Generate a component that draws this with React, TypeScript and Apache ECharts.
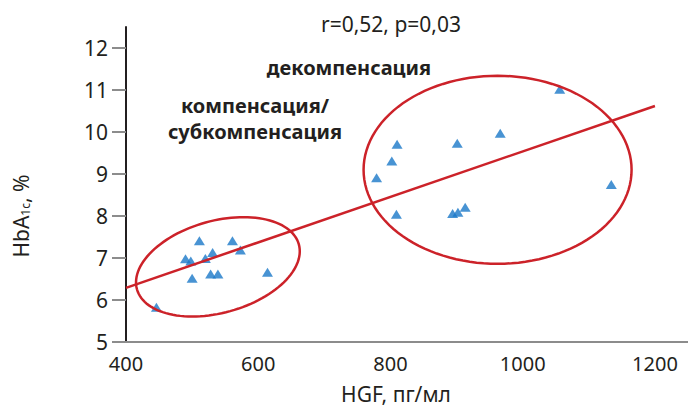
import React, { useEffect, useRef } from "react";
import * as echarts from "echarts";

// HGF (pg/ml) and HbA1c (%) values
const hgf = [446, 511, 490, 498, 500, 520, 531, 528, 539, 561, 573, 614,
  1056, 810, 901, 966, 802, 779, 1134, 809, 894, 902, 913];
const hba1c = [5.83, 7.41, 6.98, 6.93, 6.52, 6.99, 7.13, 6.62, 6.62, 7.41, 7.19, 6.66,
  11.02, 9.71, 9.73, 9.97, 9.31, 8.91, 8.75, 8.04, 8.06, 8.09, 8.21];

// regression line end points
const fitX = [400, 1200];
const fitY = [6.29, 10.62];

// ellipse centres (data units)
const ellipseCx = [539, 962];
const ellipseCy = [6.79, 9.1];

const xTicks = [400, 600, 800, 1000, 1200];
const yTicks = [5, 6, 7, 8, 9, 10, 11, 12];

const statText = "r=0,52, p=0,03";
const group1 = "декомпенсация";
const group2a = "компенсация/";
const group2b = "субкомпенсация";

const FONT = "'Noto Sans', sans-serif";

export default function App() {
  const ref = useRef<HTMLDivElement>(null);
  useEffect(() => {
    if (!ref.current) return;
    const chart = echarts.init(ref.current, undefined, { renderer: "svg" });
    // ellipse geometry in pixels: semi-axes and tilt
    const ellGeom = [
      { a: 84, b: 46, angle: 15.5 },
      { a: 134, b: 94, angle: 0 },
    ];
    const txt = (x: number, y: number, text: string, fontSize: number, bold = false) => ({
      type: "text",
      x,
      y,
      style: {
        text,
        fontSize,
        fontWeight: bold ? "bold" : "normal",
        fontFamily: FONT,
        fill: "#231f20",
        textAlign: "center",
        textVerticalAlign: "middle",
      },
    });
    chart.setOption({
      animation: false,
      backgroundColor: "#ffffff",
      textStyle: { fontFamily: FONT },
      grid: { left: 126, right: 0, top: 27, bottom: 67, containLabel: false },
      xAxis: {
        type: "value",
        min: 400,
        max: 1250,
        interval: 200,
        splitLine: { show: false },
        axisLine: { onZero: false, lineStyle: { color: "#8c8c8c", width: 2 } },
        axisTick: { show: false },
        axisLabel: {
          customValues: xTicks,
          formatter: (v: number) => String(v),
          color: "#231f20",
          fontSize: 20,
          margin: 11,
          fontFamily: FONT,
        },
      },
      yAxis: {
        type: "value",
        min: 5,
        max: 12.5,
        interval: 1,
        splitLine: { show: false },
        axisLine: { onZero: false, lineStyle: { color: "#231f20", width: 2 } },
        axisTick: {
          customValues: yTicks,
          length: 14,
          lineStyle: { color: "#8c8c8c", width: 2 },
        },
        axisLabel: {
          customValues: yTicks,
          formatter: (v: number) => String(v),
          color: "#231f20",
          fontSize: 21,
          margin: 18,
          fontFamily: FONT,
        },
      },
      graphic: [
        txt(391, 24, statText, 21),
        txt(349, 67, group1, 20, true),
        txt(255, 105, group2a, 20, true),
        txt(255, 131, group2b, 20, true),
        txt(396, 394, "HGF, пг/мл", 21),
        {
          type: "text",
          x: 21,
          y: 216,
          rotation: Math.PI / 2,
          style: {
            text: "HbA{sub|1c}, %",
            fontSize: 21,
            fontFamily: FONT,
            fill: "#231f20",
            textAlign: "center",
            textVerticalAlign: "middle",
            rich: {
              sub: {
                fontSize: 12,
                fontFamily: FONT,
                fill: "#231f20",
                padding: [9, 0, 0, 0],
                verticalAlign: "bottom",
              },
            },
          },
        },
      ],
      series: [
        {
          type: "scatter",
          data: hgf.map((x, i) => [x, hba1c[i]]),
          symbol: "triangle",
          symbolSize: [11, 9],
          itemStyle: { color: "#1a78c8" },
          z: 2,
        },
        {
          type: "line",
          data: fitX.map((x, i) => [x, fitY[i]]),
          showSymbol: false,
          symbol: "none",
          lineStyle: { color: "#cc2229", width: 2.5 },
          z: 3,
          silent: true,
        },
        {
          type: "custom",
          data: ellipseCx.map((x, i) => [x, ellipseCy[i]]),
          z: 3,
          silent: true,
          renderItem: (params: any, api: any) => {
            const idx = params.dataIndex;
            const c = api.coord([api.value(0), api.value(1)]);
            const g = ellGeom[idx];
            const th = (-g.angle * Math.PI) / 180;
            const pts: number[][] = [];
            for (let k = 0; k < 120; k++) {
              const t = (k / 120) * Math.PI * 2;
              const ex = g.a * Math.cos(t);
              const ey = g.b * Math.sin(t);
              pts.push([
                c[0] + ex * Math.cos(th) - ey * Math.sin(th),
                c[1] + ex * Math.sin(th) + ey * Math.cos(th),
              ]);
            }
            return {
              type: "polygon",
              shape: { points: pts },
              style: { fill: "none", stroke: "#cc2229", lineWidth: 2.5 },
            };
          },
        },
      ],
    });
    return () => chart.dispose();
  }, []);
  return (
    <div
      ref={ref}
      style={{ position: "fixed", left: 0, top: 0, width: 688, height: 409 }}
    />
  );
}
